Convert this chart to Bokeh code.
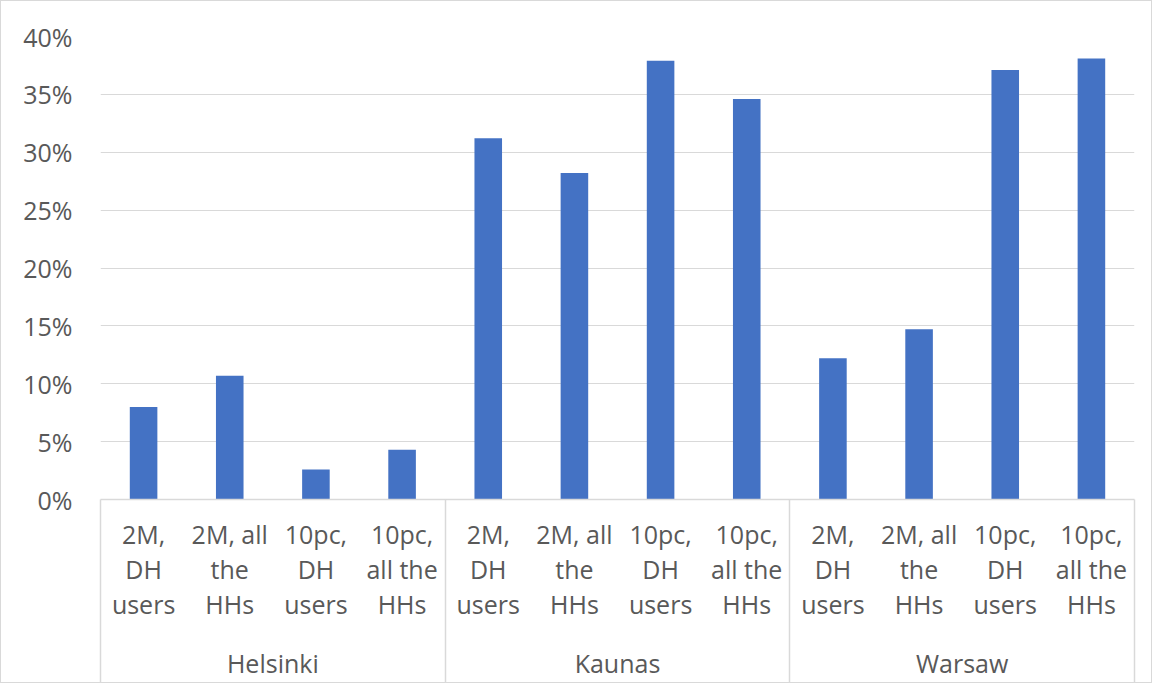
from bokeh.plotting import figure
from bokeh.models import Range1d, FixedTicker, LinearAxis, PrintfTickFormatter
from bokeh.embed import file_html
from bokeh.resources import INLINE

cities = ["Helsinki", "Kaunas", "Warsaw"]
scenarios = ["2M,\nDH\nusers", "2M, all\nthe\nHHs", "10pc,\nDH\nusers", "10pc,\nall the\nHHs"]
helsinki = [8.0, 10.7, 2.6, 4.3]
kaunas = [31.2, 28.2, 37.9, 34.6]
warsaw = [12.2, 14.7, 37.1, 38.1]
y_ticks = [0, 5, 10, 15, 20, 25, 30, 35, 40]

values = helsinki + kaunas + warsaw
n_s = len(scenarios)
xs = [i + 0.5 for i in range(len(values))]
labels = scenarios * len(cities)

FONT = "Open Sans"
TXT = "#595959"
GRID = "#d9d9d9"

p = figure(frame_width=1034, frame_height=463, output_backend="svg",
           toolbar_location=None, x_range=Range1d(0, len(values)),
           y_range=Range1d(0, 40), x_axis_location=None)
p.min_border_left = 99
p.min_border_right = 17
p.min_border_top = 35
p.min_border_bottom = 178
p.outline_line_color = None
p.styles = {"border": "1px solid #d9d9d9"}

p.vbar(x=xs, top=values, width=0.32, color="#4472C4", line_color=None)

p.xgrid.grid_line_color = None
p.ygrid.grid_line_color = GRID
p.ygrid.grid_line_width = 1
p.ygrid.ticker = FixedTicker(ticks=y_ticks)

ya = p.yaxis[0]
ya.ticker = FixedTicker(ticks=y_ticks)
ya.formatter = PrintfTickFormatter(format="%d%%")
ya.axis_line_color = None
ya.major_tick_line_color = None
ya.minor_tick_line_color = None
ya.major_label_standoff = 22
ya.major_label_text_font = FONT
ya.major_label_text_font_size = "25px"
ya.major_label_text_color = TXT

SEP = 183
bounds = [i * n_s for i in range(len(cities) + 1)]
ax1 = LinearAxis(ticker=FixedTicker(ticks=xs, minor_ticks=bounds))
ax1.major_label_overrides = {x: lab for x, lab in zip(xs, labels)}
ax1.axis_line_color = GRID
ax1.axis_line_width = 1.5
ax1.major_tick_line_color = None
ax1.major_tick_out = 0
ax1.major_tick_in = 0
ax1.minor_tick_line_color = GRID
ax1.minor_tick_line_width = 1.5
ax1.minor_tick_out = SEP
ax1.minor_tick_in = 0
ax1.major_label_standoff = 17 - SEP
ax1.major_label_text_font = FONT
ax1.major_label_text_font_size = "25px"
ax1.major_label_text_color = TXT
ax1.major_label_text_line_height = 1.03
p.add_layout(ax1, "below")

centers = [i * n_s + n_s / 2 for i in range(len(cities))]
ax2 = LinearAxis(ticker=FixedTicker(ticks=centers, minor_ticks=[]))
ax2.major_label_overrides = {c: name for c, name in zip(centers, cities)}
ax2.axis_line_color = None
ax2.major_tick_line_color = None
ax2.minor_tick_line_color = None
ax2.major_tick_out = 0
ax2.major_tick_in = 0
ax2.major_label_standoff = 22
ax2.major_label_text_font = FONT
ax2.major_label_text_font_size = "25px"
ax2.major_label_text_color = TXT
p.add_layout(ax2, "below")

open("out.html", "w").write(file_html(p, INLINE))
